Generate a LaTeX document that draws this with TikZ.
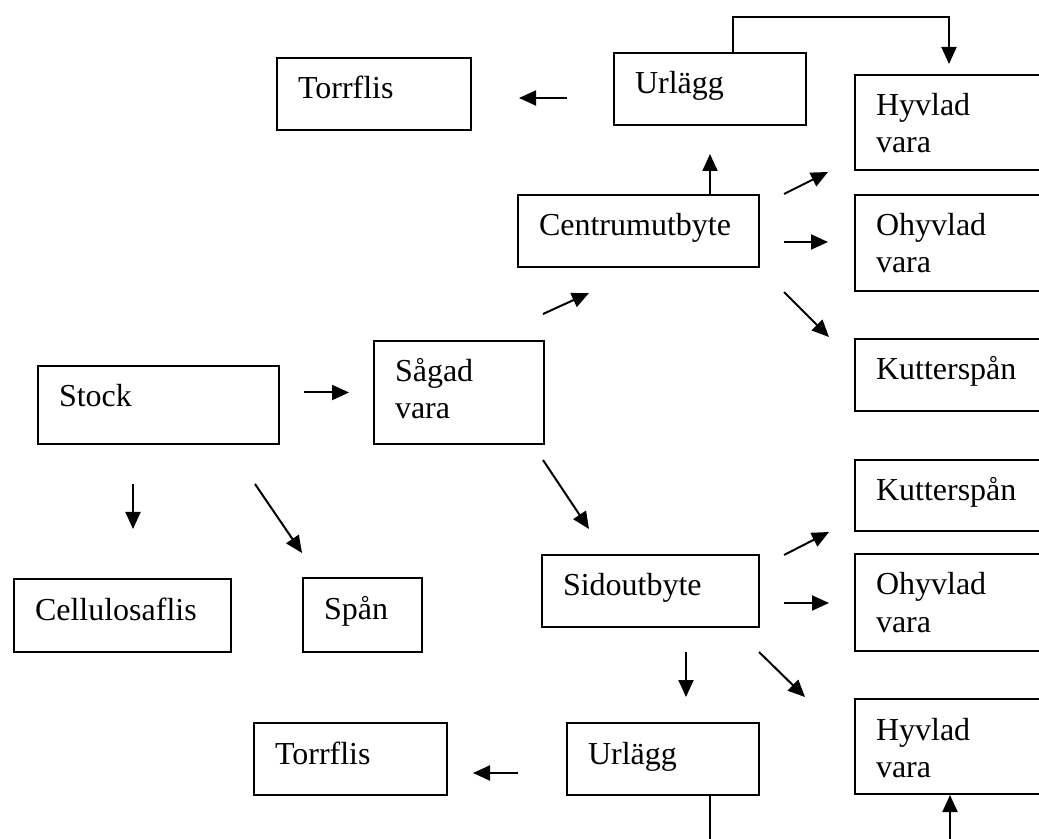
\documentclass[tikz,border=0pt]{standalone}
\usepackage{fontspec}
\setmainfont{Liberation Serif}
\usetikzlibrary{arrows.meta}

\begin{document}
\begin{tikzpicture}[x = 0.5pt, y = -0.5pt, line width = 1pt,
	> = {Triangle[length = 8.5pt, width = 7.5pt]},
	prodbox/.style 2 args = {draw, anchor = north west, inner xsep = 10.5pt, inner ysep = 0pt,
		align = left, text width = {#1 * 0.5pt - 21pt},
		text height = 20.5pt, text depth = {#2 * 0.5pt - 20.5pt},
		font = \fontsize{16pt}{18.5pt}\selectfont}]

	% Page frame (right column of boxes runs off the edge)

	\useasboundingbox (0, 0) rectangle (1039, 839);
	\clip (0, 0) rectangle (1039, 839);

	% Boxes, upper half

	\node [prodbox = {194}{72}] (torrA) at (276, 57) {Torrflis};
	\node [prodbox = {192}{72}] (urlA) at (613, 52) {Urlägg};
	\node [prodbox = {241}{72}] (centrum) at (517, 194) {Centrumutbyte};
	\node [prodbox = {200}{95}] (hyvA) at (854, 74) {Hyvlad\\vara};
	\node [prodbox = {200}{96}] (ohyvA) at (854, 194) {Ohyvlad\\vara};
	\node [prodbox = {200}{72}] (kutA) at (854, 338) {Kutterspån};

	% Boxes, middle

	\node [prodbox = {241}{78}] (stock) at (37, 365) {Stock};
	\node [prodbox = {170}{103}] (sagad) at (373, 340) {Sågad\\vara};
	\node [prodbox = {217}{73}] (cell) at (13, 578) {Cellulosaflis};
	\node [prodbox = {119}{74}] (span) at (302, 577) {Spån};

	% Boxes, lower half

	\node [prodbox = {217}{72}] (sido) at (541, 554) {Sidoutbyte};
	\node [prodbox = {200}{71}] (kutB) at (854, 459) {Kutterspån};
	\node [prodbox = {200}{97}] (ohyvB) at (854, 553) {Ohyvlad\\vara};
	\node [prodbox = {200}{95}] (hyvB) at (854, 698) {Hyvlad\\vara};
	\node [prodbox = {192}{72}] (urlB) at (566, 722) {Urlägg};
	\node [prodbox = {193}{72}] (torrB) at (253, 722) {Torrflis};

	% Arrows from the log

	\draw [->] ([shift = {(24, 27.5)}] stock.north east) -- ([shift = {(-24, 52.5)}] sagad.north west);
	\draw [->] ([shift = {(96, 39)}] stock.south west) -- ([shift = {(120, -49)}] cell.north west);
	\draw [->] ([shift = {(-25, 39)}] stock.south east) -- ([shift = {(0, -24)}] span.north west);
	\draw [->] ([shift = {(-2, -26)}] sagad.north east) -- ([shift = {(72, 25)}] centrum.south west);
	\draw [->] ([shift = {(-2, 15)}] sagad.south east) -- ([shift = {(48, -25)}] sido.north west);

	% Arrows from the centre yield

	\draw [->] ([shift = {(193, 0)}] centrum.north west) -- ([shift = {(97, 28)}] urlA.south west);
	\draw [->] ([shift = {(24, 0)}] centrum.north east) -- ([shift = {(-26, 1)}] hyvA.south west);
	\draw [->] ([shift = {(24, 48)}] centrum.north east) -- ([shift = {(-26, 48)}] ohyvA.north west);
	\draw [->] ([shift = {(24, 24)}] centrum.south east) -- ([shift = {(-25, -1)}] kutA.north west);
	\draw [->] ([shift = {(-46, 46)}] urlA.north west) -- ([shift = {(47, 41)}] torrA.north east);
	\draw [->] ([shift = {(120, 0)}] urlA.north west) -- ++(0, -35) -| ([shift = {(95, -10)}] hyvA.north west);

	% Arrows from the side yield

	\draw [->] ([shift = {(24, 1)}] sido.north east) -- ([shift = {(-25, 0)}] kutB.south west);
	\draw [->] ([shift = {(24, 49)}] sido.north east) -- ([shift = {(-25, 50)}] ohyvB.north west);
	\draw [->] ([shift = {(-1, 24)}] sido.south east) -- ([shift = {(-49, -1)}] hyvB.north west);
	\draw [->] ([shift = {(145, 24)}] sido.south west) -- ([shift = {(120, -25)}] urlB.north west);
	\draw [->] ([shift = {(-48, -23)}] urlB.south west) -- ([shift = {(25, -23)}] torrB.south east);
	\draw [->] ([shift = {(144, 0)}] urlB.south west) -- ++(0, 80) -| ([shift = {(96, 0)}] hyvB.south west);

\end{tikzpicture}
\end{document}
